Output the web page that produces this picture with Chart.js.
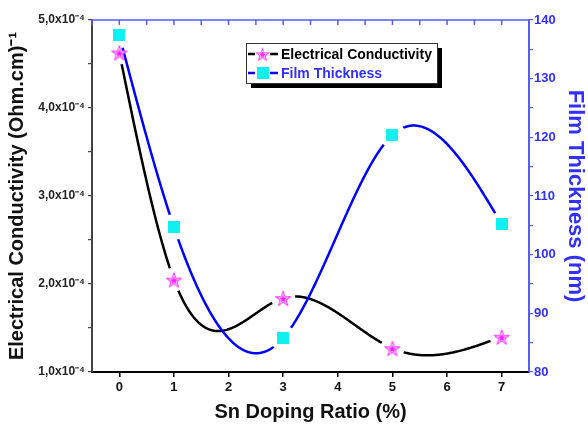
<!DOCTYPE html>
<html>
<head>
<meta charset="utf-8">
<script src="https://cdn.jsdelivr.net/npm/chart.js@4"></script>
<style>
  html, body { margin: 0; padding: 0; background: #fff; }
  #wrap { width: 588px; height: 426px; }
</style>
</head>
<body>
<div id="wrap"><canvas id="chart" width="588" height="426"></canvas></div>
<script>
// data
const dopingRatio = [0, 1, 3, 5, 7];
const conductivity = [4.63e-4, 2.05e-4, 1.84e-4, 1.27e-4, 1.40e-4];
const thickness = [137.4, 104.7, 85.8, 120.4, 105.2];
const xTickValues = [0, 1, 2, 3, 4, 5, 6, 7];
const seriesNames = ['Electrical Conductivity', 'Film Thickness'];

const FONT = '"Liberation Sans", Arial, sans-serif';
const BLUE_TEXT = '#3030ff';
const BLUE_AXIS = '#5a5aff';

function starImage() {
  const c = document.createElement('canvas');
  c.width = 20; c.height = 20;
  const g = c.getContext('2d');
  const pts = (R, r) => {
    const p = [];
    for (let i = 0; i < 10; i++) {
      const a = -Math.PI / 2 + i * Math.PI / 5;
      const rad = i % 2 ? r : R;
      p.push([10 + rad * Math.cos(a), 11 + rad * Math.sin(a)]);
    }
    return p;
  };
  g.beginPath();
  pts(9, 3.8).forEach(([x, y], i) => i ? g.lineTo(x, y) : g.moveTo(x, y));
  g.closePath();
  g.fillStyle = '#ff1fff';
  g.fill();
  g.beginPath();
  pts(5.5, 2.3).forEach(([x, y], i) => i ? g.lineTo(x, y) : g.moveTo(x, y));
  g.closePath();
  g.strokeStyle = '#ffd0ff';
  g.lineWidth = 1;
  g.stroke();
  return c;
}

function squareImage() {
  const c = document.createElement('canvas');
  c.width = 12; c.height = 12;
  const g = c.getContext('2d');
  g.fillStyle = '#10f0f0';
  g.fillRect(0, 0, 12, 12);
  return c;
}

const starMark = starImage();
const squareMark = squareImage();

// natural cubic spline through the data (the reference uses spline connection)
function naturalSpline(xs, ys) {
  const n = xs.length;
  const h = [], M = new Array(n).fill(0);
  for (let i = 0; i < n - 1; i++) h.push(xs[i + 1] - xs[i]);
  const a = [], b = [], c = [], d = [];
  for (let i = 1; i < n - 1; i++) {
    a.push(h[i - 1]);
    b.push(2 * (h[i - 1] + h[i]));
    c.push(h[i]);
    d.push(6 * ((ys[i + 1] - ys[i]) / h[i] - (ys[i] - ys[i - 1]) / h[i - 1]));
  }
  const m = b.length;
  for (let i = 1; i < m; i++) {
    const w = a[i] / b[i - 1];
    b[i] -= w * c[i - 1];
    d[i] -= w * d[i - 1];
  }
  const sol = new Array(m);
  for (let i = m - 1; i >= 0; i--) sol[i] = (d[i] - (i < m - 1 ? c[i] * sol[i + 1] : 0)) / b[i];
  for (let i = 0; i < m; i++) M[i + 1] = sol[i];
  return x => {
    let i = 0;
    while (i < n - 2 && x > xs[i + 1]) i++;
    const t1 = xs[i + 1] - x, t0 = x - xs[i], hi = h[i];
    return M[i] * t1 ** 3 / (6 * hi) + M[i + 1] * t0 ** 3 / (6 * hi) +
      (ys[i] / hi - M[i] * hi / 6) * t1 + (ys[i + 1] / hi - M[i + 1] * hi / 6) * t0;
  };
}

const splinePlugin = {
  id: 'spline',
  beforeDatasetsDraw(chart) {
    const { ctx, chartArea: area } = chart;
    chart.data.datasets.forEach((ds, di) => {
      const meta = chart.getDatasetMeta(di);
      const xs = ds.data.map(p => p.x), ys = ds.data.map(p => p.y);
      const f = naturalSpline(xs, ys);
      const xScale = chart.scales[meta.xAxisID], yScale = chart.scales[meta.yAxisID];
      ctx.save();
      ctx.beginPath();
      ctx.rect(area.left, area.top, area.right - area.left, area.bottom - area.top);
      meta.data.forEach(pt => {
        ctx.moveTo(pt.x + ds.gapRadius, pt.y);
        ctx.arc(pt.x, pt.y, ds.gapRadius, 0, Math.PI * 2);
      });
      ctx.clip('evenodd');
      ctx.beginPath();
      const x0 = xs[0], x1 = xs[xs.length - 1];
      for (let k = 0; k <= 400; k++) {
        const x = x0 + (x1 - x0) * k / 400;
        const px = xScale.getPixelForValue(x), py = yScale.getPixelForValue(f(x));
        k ? ctx.lineTo(px, py) : ctx.moveTo(px, py);
      }
      ctx.strokeStyle = ds.borderColor;
      ctx.lineWidth = 2.5;
      ctx.lineJoin = 'round';
      ctx.stroke();
      ctx.restore();
    });
  }
};

// top frame line with inward ticks, plus the boxed legend
const framePlugin = {
  id: 'frame',
  afterDraw(chart) {
    const { ctx, chartArea: a, scales } = chart;
    ctx.save();
    ctx.strokeStyle = BLUE_AXIS;
    ctx.lineWidth = 1.5;
    ctx.beginPath();
    ctx.moveTo(a.left, a.top);
    ctx.lineTo(a.right, a.top);
    for (let v = -0.5; v <= 7.5; v += 0.5) {
      const px = scales.x.getPixelForValue(v);
      ctx.moveTo(px, a.top);
      ctx.lineTo(px, a.top + 5);
    }
    ctx.stroke();

    // legend
    const lx = a.left + 154, ly = a.top + 23, lw = 191, lh = 40;
    ctx.fillStyle = '#000';
    ctx.fillRect(lx + 5, ly + 5, lw, lh);
    ctx.fillStyle = '#fff';
    ctx.fillRect(lx, ly, lw, lh);
    ctx.strokeStyle = '#333';
    ctx.lineWidth = 1;
    ctx.strokeRect(lx + 0.5, ly + 0.5, lw, lh);

    const rows = [
      { y: ly + 11, color: '#000', text: '#000', img: starMark },
      { y: ly + 30, color: '#0000ff', text: BLUE_TEXT, img: squareMark }
    ];
    rows.forEach((r, i) => {
      ctx.strokeStyle = r.color;
      ctx.lineWidth = 2.5;
      ctx.beginPath();
      ctx.moveTo(lx + 2, r.y); ctx.lineTo(lx + 9, r.y);
      ctx.moveTo(lx + 24, r.y); ctx.lineTo(lx + 32, r.y);
      ctx.stroke();
      const s = i === 0 ? 0.85 : 1;
      const w = r.img.width * s, h = r.img.height * s;
      ctx.drawImage(r.img, lx + 16.5 - w / 2, r.y - h / 2, w, h);
      ctx.fillStyle = r.text;
      ctx.font = 'bold 14px ' + FONT;
      ctx.textBaseline = 'middle';
      ctx.fillText(seriesNames[i], lx + 35, r.y + 1);
    });
    ctx.restore();
  }
};

function isWhole(v, step) {
  const q = v / step;
  return Math.abs(q - Math.round(q)) < 1e-6;
}

new Chart(document.getElementById('chart'), {
  type: 'line',
  data: {
    datasets: [
      {
        label: seriesNames[0],
        data: dopingRatio.map((x, i) => ({ x, y: conductivity[i] })),
        yAxisID: 'y',
        borderColor: '#000',
        showLine: false,
        gapRadius: 12,
        pointStyle: starMark,
        pointRadius: 10
      },
      {
        label: seriesNames[1],
        data: dopingRatio.map((x, i) => ({ x, y: thickness[i] })),
        yAxisID: 'y2',
        borderColor: '#0000ff',
        showLine: false,
        gapRadius: 13,
        pointStyle: squareMark,
        pointRadius: 10
      }
    ]
  },
  options: {
    responsive: false,
    animation: false,
    layout: { padding: { top: 20, left: 0, right: 0, bottom: 0 } },
    plugins: { legend: { display: false }, tooltip: { enabled: false } },
    scales: {
      x: {
        type: 'linear',
        min: -0.5,
        max: 7.5,
        afterBuildTicks: s => { s.ticks = xTickValues.map(v => ({ value: v })); },
        afterFit: s => { s.height = 54; },
        border: { color: '#000', width: 2 },
        grid: { drawOnChartArea: false, color: '#000', lineWidth: 1.5, tickLength: 5 },
        ticks: { color: '#111', font: { family: FONT, size: 13, weight: 'bold' }, padding: 3 },
        title: {
          display: true,
          text: 'Sn Doping Ratio (%)',
          color: '#111',
          font: { family: FONT, size: 20, weight: 'bold' },
          padding: { top: 0, bottom: 2 }
        }
      },
      y: {
        position: 'left',
        min: 1e-4,
        max: 5e-4,
        afterFit: s => { s.width = 92; },
        border: { color: '#444', width: 2 },
        grid: { drawOnChartArea: false, color: '#444', lineWidth: 1.2, tickLength: 4 },
        ticks: {
          stepSize: 0.5e-4,
          color: '#222',
          padding: 3,
          font: { family: FONT, size: 12, weight: 'bold' },
          callback: v => isWhole(v, 1e-4) ? (v * 1e4).toFixed(1).replace('.', ',') + 'x10\u207B\u2074' : ''
        },
        title: {
          display: true,
          text: 'Electrical Conductivity (Ohm.cm)\u207B\u00B9',
          color: '#111',
          font: { family: FONT, size: 20, weight: 'bold' },
          padding: { top: 5, bottom: 2 }
        }
      },
      y2: {
        position: 'right',
        min: 80,
        max: 140,
        afterFit: s => { s.width = 59; },
        border: { color: BLUE_AXIS, width: 2 },
        grid: { drawOnChartArea: false, color: BLUE_AXIS, lineWidth: 1.2, tickLength: 4 },
        ticks: {
          stepSize: 5,
          color: BLUE_TEXT,
          padding: 1,
          font: { family: FONT, size: 13, weight: 'bold' },
          callback: v => isWhole(v, 10) ? String(v) : ''
        },
        title: {
          display: true,
          text: 'Film Thickness (nm)',
          color: BLUE_TEXT,
          font: { family: FONT, size: 22, weight: 'bold' },
          padding: { top: 0, bottom: 1 }
        }
      }
    }
  },
  plugins: [splinePlugin, framePlugin]
});
</script>
</body>
</html>
